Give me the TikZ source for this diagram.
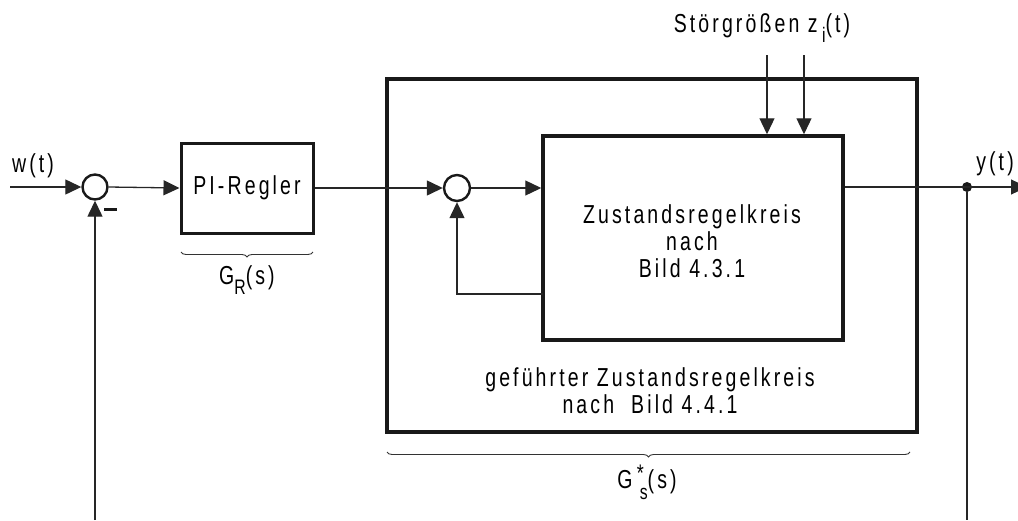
\documentclass[tikz,border=0pt]{standalone}
\usepackage{fontspec}
\setmainfont{Liberation Sans}[FakeStretch=0.75, LetterSpace=12]
\usetikzlibrary{arrows.meta,decorations.pathreplacing}
\newcommand\lowsub[1]{\raisebox{-0.4em}{\fontsize{21}{21}\selectfont #1}}
\newcommand\highsup[1]{\raisebox{0.3em}{\fontsize{24}{24}\selectfont #1}}
\begin{document}
\begin{tikzpicture}[x=1pt,y=-1pt,
  every node/.style={font=\fontsize{26}{28}\selectfont, inner sep=0pt},
  ln/.style={line width=1.3pt, draw=black!85},
  arr/.style={ln, -{Triangle[length=16pt,width=15pt]}},
  sumnode/.style={circle, draw=black!90, line width=2.4pt, minimum size=25pt},
  blockbox/.style={draw=black!90, rectangle},
  lbl/.style={align=center},
  bracedeco/.style={line width=0.9pt, draw=black!80, decorate, decoration={brace, mirror, amplitude=5pt}}
]
\useasboundingbox (0,0) rectangle (1018,520);
% nodes
\node[sumnode] (s1) at (95,187) {};
\node[blockbox, line width=3pt, minimum width=132pt, minimum height=90pt] (pi) at (247,188) {PI-Regler};
\node[blockbox, line width=4pt, minimum width=530pt, minimum height=353pt] (outer) at (652,255.5) {};
\node[blockbox, line width=3.5pt, minimum width=300pt, minimum height=204pt] (inner) at (693,238) {};
\node[sumnode, minimum size=26pt] (s2) at (457,188) {};
\node[circle, fill=black!90, minimum size=10pt] (dot) at (967,187) {};
% texts
\node[lbl] (w) at (33,166) {w(t)};
\node[lbl] (y) at (995,164) {y(t)};
\node[lbl] (z) at (762,28) {Störgrößen z\,\lowsub{i}(t)};
\node[lbl, font=\fontsize{26}{27}\selectfont] (itext) at (692,241) {Zustandsregelkreis\\nach\\Bild 4.3.1};
\node[lbl, font=\fontsize{26}{27}\selectfont] (otext) at (650,391) {geführter Zustandsregelkreis\\nach\ \ Bild 4.4.1};
\node[lbl] (gr) at (247,280) {G\lowsub{R}(s)};
\node[lbl] (gs) at (647,482) {G\,\highsup{*}\kern-4pt\lowsub{s}(s)};
\node[fill=black!90, minimum width=13pt, minimum height=3pt] (minus) at (110,209) {};
% coordinates
\coordinate (win) at (10,187);
\coordinate (fbL) at (95,520);
\coordinate (fbR) at (967,520);
\coordinate (outE) at (1027,187);
\coordinate (fbi) at (543,294);
\coordinate (z1) at (767,55);
\coordinate (z2) at (804,55);
\coordinate (b1l) at (181,252);
\coordinate (b1r) at (313,252);
\coordinate (b2l) at (387,452);
\coordinate (b2r) at (910,452);
% connectors
\draw[arr] (win) -- (s1.west);
\draw[arr] (s1.east) -- (pi.west);
\draw[arr] (pi.east |- s2) -- (s2.west);
\draw[arr] (s2.east) -- (s2.east -| inner.west);
\draw[arr] (fbi) -| (s2.south);
\draw[arr] (fbL) -- (s1.south);
\draw[arr] (z1) -- (z1 |- inner.north);
\draw[arr] (z2) -- (z2 |- inner.north);
\draw[arr] (inner.east |- dot) -- (outE);
\draw[ln] (dot) -- (fbR);
% braces
\draw[bracedeco] (b1l) -- (b1r);
\draw[bracedeco] (b2l) -- (b2r);
\end{tikzpicture}
\end{document}
